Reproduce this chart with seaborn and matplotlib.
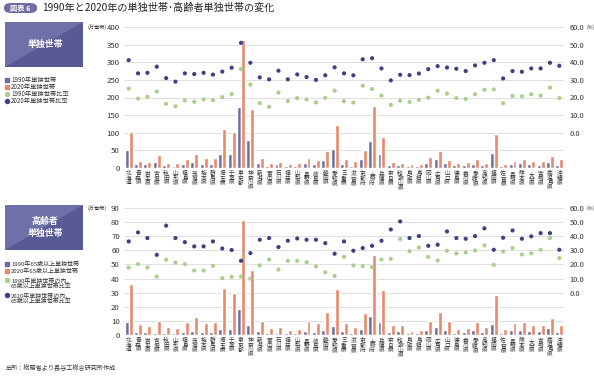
import numpy as np
import pandas as pd
import matplotlib
matplotlib.use("Agg")
import matplotlib.pyplot as plt
import seaborn as sns
from matplotlib.patches import Rectangle, Polygon, FancyBboxPatch
from matplotlib.lines import Line2D

sns.set_theme(style="white")
plt.rcParams['font.family'] = ['Noto Sans CJK JP', 'DejaVu Sans']

# ---- data ----
prefs = ["北海道", "青森県", "岩手県", "宮城県", "秋田県", "山形県", "福島県", "茨城県",
         "栃木県", "群馬県", "埼玉県", "千葉県", "東京都", "神奈川県", "新潟県", "富山県",
         "石川県", "福井県", "山梨県", "長野県", "岐阜県", "静岡県", "愛知県", "三重県",
         "滋賀県", "京都府", "大阪府", "兵庫県", "奈良県", "和歌山県", "鳥取県", "島根県",
         "岡山県", "広島県", "山口県", "徳島県", "香川県", "愛媛県", "高知県", "福岡県",
         "佐賀県", "長崎県", "熊本県", "大分県", "宮崎県", "鹿児島県", "沖縄県"]

# single households (10k households)
single_1990 = [52, 11, 11, 18, 8, 6, 11, 17, 11, 11, 41, 40, 172, 79, 14, 7, 10, 6, 6, 13,
               11, 23, 54, 10, 7, 26, 76, 40, 8, 8, 5, 6, 14, 25, 14, 8, 8, 12, 9, 43,
               6, 11, 14, 10, 9, 18, 9]
single_2020 = [101, 20, 18, 38, 14, 14, 26, 39, 27, 27, 110, 101, 362, 167, 29, 14, 18, 10, 13, 28,
               24, 49, 121, 25, 19, 51, 175, 88, 17, 15, 10, 11, 32, 49, 23, 15, 17, 25, 15, 97,
               11, 21, 26, 21, 20, 33, 25]
# single household ratio (%)
ratio_1990 = [25.1, 19.4, 20.4, 23.4, 16.4, 15.0, 18.3, 17.6, 18.9, 18.5, 20.2, 21.9, 36.2, 27.3,
              16.8, 14.7, 22.8, 18.0, 19.6, 18.9, 17.2, 19.8, 23.9, 17.9, 17.1, 26.7, 24.8, 21.1,
              15.8, 18.2, 17.5, 18.6, 19.9, 23.9, 22.2, 19.7, 19.2, 21.8, 24.4, 24.6, 16.7, 20.9,
              20.7, 21.8, 21.1, 25.6, 19.7]
ratio_2020 = [41.2, 33.7, 34.0, 37.5, 31.0, 29.0, 33.7, 33.3, 34.0, 33.0, 34.7, 36.9, 51.0, 39.7,
              31.4, 30.3, 35.2, 30.3, 33.1, 31.6, 30.0, 32.6, 37.1, 33.7, 32.6, 41.7, 42.3, 36.5,
              29.7, 32.9, 32.7, 33.6, 36.1, 37.8, 37.0, 36.3, 35.0, 38.2, 39.7, 41.2, 30.8, 35.0,
              34.6, 36.5, 36.5, 39.7, 38.0]

# elderly (65+) single households (10k households)
elderly_1990 = [9.0, 2.1, 2.1, 1.7, 1.7, 1.4, 2.4, 2.6, 2.1, 2.4, 4.3, 4.3, 18.7, 7.3, 2.6, 1.4,
                1.7, 1.2, 1.4, 2.8, 2.1, 3.3, 6.2, 2.6, 1.7, 4.5, 13.5, 9.0, 2.1, 2.6, 1.2, 1.4,
                3.3, 5.4, 3.6, 1.7, 1.9, 3.3, 2.4, 7.8, 1.4, 3.6, 3.3, 2.6, 2.6, 5.2, 1.9]
elderly_2020 = [36.2, 7.6, 6.6, 10.0, 5.7, 4.7, 9.0, 12.8, 8.5, 9.5, 33.4, 30.0, 81.5, 46.2, 10.0,
                4.7, 5.4, 3.3, 4.3, 10.0, 8.5, 16.6, 32.7, 8.8, 5.7, 15.6, 56.8, 31.7, 7.1, 6.9,
                2.8, 3.6, 9.7, 16.1, 9.7, 4.0, 5.2, 9.2, 5.4, 28.7, 4.0, 8.5, 9.2, 7.1, 7.1, 12.1, 7.1]
# share of 65+ among single households (%)
eratio_1990 = [17.8, 20.2, 17.8, 11.4, 23.3, 21.4, 20.2, 15.7, 15.7, 19.0, 10.3, 11.2, 11.4, 10.0,
               19.3, 23.5, 16.4, 22.6, 22.6, 21.6, 18.6, 14.5, 11.9, 25.4, 19.3, 18.8, 18.1, 23.5,
               24.0, 38.0, 29.4, 32.0, 25.4, 22.8, 29.7, 27.8, 28.5, 29.9, 33.5, 19.7, 29.2, 31.6,
               27.1, 27.8, 30.4, 38.7, 24.5]
eratio_2020 = [36.3, 42.7, 38.7, 26.8, 47.5, 38.7, 35.8, 32.8, 32.8, 36.3, 31.3, 30.2, 22.6, 28.0,
               37.5, 38.7, 32.3, 36.8, 38.4, 37.5, 37.5, 35.1, 27.6, 36.3, 29.7, 31.6, 33.2, 36.8,
               44.8, 50.5, 38.7, 40.1, 33.2, 34.0, 43.4, 38.7, 38.2, 40.1, 45.6, 30.4, 38.9, 44.1,
               38.2, 39.9, 42.2, 42.2, 30.4]

c_bar90 = "#6d6e9f"
c_bar20 = "#e8896b"
c_dot90 = "#a8cf8c"
c_dot20 = "#3e4183"
c_text = "#333333"
c_grid = "#d9d9d9"

W, H = 594, 376
fig = plt.figure(figsize=(W / 100, H / 100), dpi=100)
fig.patch.set_facecolor("white")


def fx(x):
    return x / W


def fy(y):
    return 1 - y / H


def panel(ax, v90, v20, r90, r20, ymax, ystep, rmin):
    df = pd.DataFrame({"pref": prefs * 2,
                       "year": ["1990"] * len(prefs) + ["2020"] * len(prefs),
                       "value": list(v90) + list(v20)})
    sns.barplot(data=df, x="pref", y="value", hue="year", order=prefs,
                palette=[c_bar90, c_bar20], width=0.84, gap=0, saturation=1,
                legend=False, ax=ax, zorder=2)
    ax.set_xlim(-0.5, len(prefs) - 0.5)
    ax.set_ylim(0, ymax)
    ax.set_yticks(np.arange(0, ymax + 1, ystep))
    ax.yaxis.grid(True, color=c_grid, lw=0.6)
    ax.set_axisbelow(True)
    for s in ax.spines.values():
        s.set_visible(False)
    ax.set_xlabel("")
    ax.set_ylabel("")
    ax.set_xticks(range(len(prefs)))
    ax.set_xticklabels(["\n".join(p) for p in prefs], fontsize=4.1,
                       linespacing=0.95, color=c_text, va="top")
    ax.tick_params(axis="x", length=0, pad=2)
    ax.tick_params(axis="y", length=0, pad=3, labelsize=5.6, labelcolor=c_text)

    ax2 = ax.twinx()
    sns.scatterplot(x=prefs, y=r90, color=c_dot90, s=9, edgecolor="none", ax=ax2, zorder=3)
    sns.scatterplot(x=prefs, y=r20, color=c_dot20, s=9, edgecolor="none", ax=ax2, zorder=3)
    ax2.set_ylim(rmin, 60)
    ax2.set_yticks(np.arange(0, 61, 10))
    ax2.set_yticklabels([f"{v:.1f}" for v in np.arange(0, 61, 10)])
    ax2.tick_params(axis="y", length=0, pad=4, labelsize=5.4, labelcolor=c_text)
    ax2.set_xlim(-0.5, len(prefs) - 0.5)
    ax2.grid(False)
    for s in ax2.spines.values():
        s.set_visible(False)
    return ax2


ax_top = fig.add_axes([fx(124), fy(168), fx(564) - fx(124), fy(27) - fy(168)])
panel(ax_top, single_1990, single_2020, ratio_1990, ratio_2020, 400, 50, -20)

ax_bot = fig.add_axes([fx(124), fy(335), fx(564) - fx(124), fy(208) - fy(335)])
panel(ax_bot, elderly_1990, elderly_2020, eratio_1990, eratio_2020, 90, 10, -30)

# units
for yy in (27, 208):
    fig.text(fx(87), fy(yy), "(万世帯)", fontsize=3.8, color=c_text, va="center", ha="left")
    fig.text(fx(586.5), fy(yy), "(%)", fontsize=3.6, color=c_text, va="center", ha="left")

# title
fig.patches.append(FancyBboxPatch((fx(4), fy(13)), fx(33), fy(3) - fy(13),
                                  boxstyle="round,pad=0,rounding_size=0.012",
                                  transform=fig.transFigure, facecolor=c_bar90,
                                  edgecolor="none", figure=fig))
fig.text(fx(20.5), fy(8), "図表 6", fontsize=5.2, color="white", ha="center", va="center",
         fontweight="bold")
fig.text(fx(42), fy(8), "1990年と2020年の単独世帯･高齢者単独世帯の変化", fontsize=7.3,
         color="#222222", ha="left", va="center")


def tag_box(y0, y1, label):
    x0, x1 = 5, 83
    fig.patches.append(Rectangle((fx(x0), fy(y1)), fx(x1) - fx(x0), fy(y0) - fy(y1),
                                 transform=fig.transFigure, facecolor="#6e71a8",
                                 edgecolor="none", figure=fig))
    fig.patches.append(Polygon([(fx(x1), fy(y0)), (fx(x1), fy(y1)), (fx(x0), fy(y1))],
                               closed=True, transform=fig.transFigure, facecolor="#585a93",
                               edgecolor="none", figure=fig))
    fig.text(fx(45), fy((y0 + y1) / 2), label, fontsize=6.4, color="white", ha="center",
             va="center", fontweight="bold", linespacing=1.5)


tag_box(22, 67, "単独世帯")
tag_box(205, 250, "高齢者\n単独世帯")

LEG_FS = 4.5


def legend_item(y, marker, color, text, ty=None, fs=LEG_FS):
    fig.add_artist(Line2D([fx(7)], [fy(y)], marker=marker, color=color, markersize=2.9,
                          linestyle="none", transform=fig.transFigure))
    fig.text(fx(11), fy(y if ty is None else ty), text, fontsize=fs, color=c_text,
             ha="left", va="center", linespacing=1.0)


legend_item(80, "s", c_bar90, "1990年単独世帯")
legend_item(87, "s", c_bar20, "2020年単独世帯")
legend_item(94, "o", c_dot90, "1990年単独世帯比率")
legend_item(101, "o", c_dot20, "2020年単独世帯比率")

legend_item(264, "s", c_bar90, "1990年65歳以上単独世帯", fs=4.3)
legend_item(271, "s", c_bar20, "2020年65歳以上単独世帯", fs=4.3)
legend_item(280, "o", c_dot90, "1990年単独世帯の内、\n65歳以上単独世帯比率", ty=283.2, fs=4.3)
legend_item(295, "o", c_dot20, "2020年単独世帯の内、\n65歳以上単独世帯比率", ty=298.2, fs=4.3)

fig.text(fx(5), fy(369), "出所：総務省より長谷工総合研究所作成", fontsize=4.4, color=c_text,
         va="center")

fig.savefig("out.png", dpi=100)
